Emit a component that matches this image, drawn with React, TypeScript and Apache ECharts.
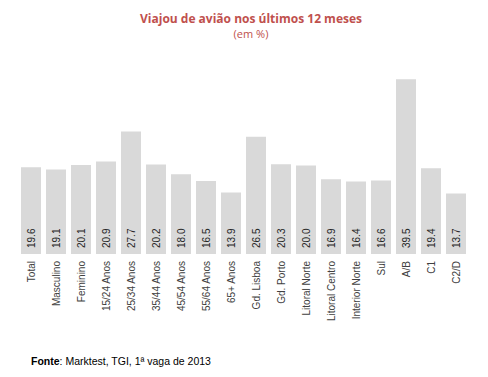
import React, { useEffect, useRef } from "react";
import * as echarts from "echarts";

const categories = [
  "Total", "Masculino", "Feminino", "15/24 Anos", "25/34 Anos", "35/44 Anos",
  "45/54 Anos", "55/64 Anos", "65+ Anos", "Gd. Lisboa", "Gd. Porto",
  "Litoral Norte", "Litoral Centro", "Interior Norte", "Sul", "A/B", "C1", "C2/D",
];
const values = [19.6, 19.1, 20.1, 20.9, 27.7, 20.2, 18.0, 16.5, 13.9, 26.5, 20.3, 20.0, 16.9, 16.4, 16.6, 39.5, 19.4, 13.7];

export default function App() {
  const ref = useRef<HTMLDivElement>(null);
  useEffect(() => {
    if (!ref.current) return;
    const chart = echarts.init(ref.current, null, { renderer: "svg" });
    const font = "'Open Sans', 'DejaVu Sans', sans-serif";
    const lab = "'Liberation Sans', Arial, sans-serif";
    chart.setOption({
      animation: false,
      title: [
        {
          text: "Viajou de avião nos últimos 12 meses",
          left: 246, top: 7, textAlign: "center",
          textStyle: { color: "#C0504D", fontSize: 12, fontWeight: "bold", fontFamily: font },
        },
        {
          text: "(em %)",
          left: 246, top: 23, textAlign: "center",
          textStyle: { color: "#C0504D", fontSize: 11, fontWeight: "normal", fontFamily: font },
        },
      ],
      graphic: [
        {
          type: "text", left: 31, top: 355,
          style: {
            text: "{b|Fonte}: Marktest, TGI, 1ª vaga de 2013",
            fontSize: 10.5, fontFamily: lab, fill: "#000",
            rich: { b: { fontWeight: "bold", fontSize: 10.5, fontFamily: lab } },
          },
        },
      ],
      grid: { left: 18.5, right: 19.5, top: 77, bottom: 123, containLabel: false },
      xAxis: {
        type: "category", data: categories,
        axisLine: { show: false }, axisTick: { show: false },
        axisLabel: { rotate: 90, color: "#404040", fontSize: 10, fontFamily: lab, margin: 7, interval: 0 },
      },
      yAxis: { type: "value", min: 0, max: 40, show: false, splitLine: { show: false } },
      series: [
        {
          type: "bar", data: values, barWidth: 20,
          itemStyle: { color: "#D9D9D9" },
          label: {
            show: true, position: "insideBottom", rotate: 90, align: "left", verticalAlign: "middle",
            distance: 6, color: "#262626", fontSize: 10, fontFamily: lab,
            formatter: (p: any) => Number(p.value).toFixed(1),
          },
        },
      ],
    });
    return () => chart.dispose();
  }, []);
  return <div ref={ref} style={{ position: "absolute", left: 0, top: 0, width: 488, height: 377 }} />;
}
